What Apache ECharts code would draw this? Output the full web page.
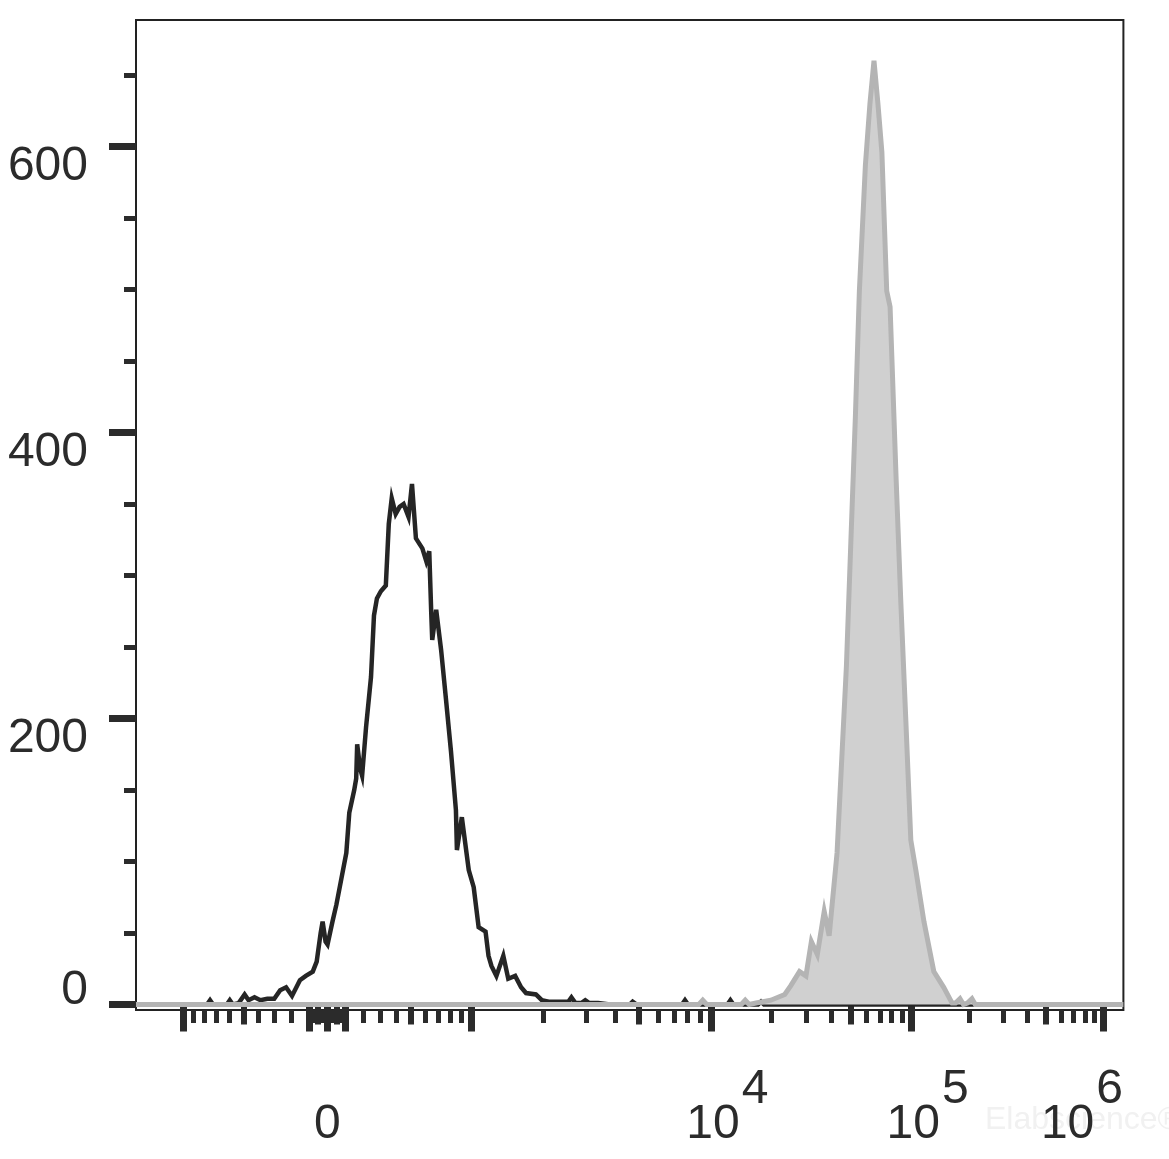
<!DOCTYPE html>
<html>
<head>
<meta charset="utf-8">
<script src="https://cdn.jsdelivr.net/npm/echarts@6/dist/echarts.min.js"></script>
<style>
html,body{margin:0;padding:0;background:#fff;}
#chart{width:1169px;height:1159px;}
</style>
</head>
<body>
<div id="chart"></div>
<script>
// ---- data (x = display channel 0..1000 on the biexponential axis, y = count) ----
const unstainedHist = [
  [0,0],[72,0],[75,3],[78,0],[92,0],[95,3],[98,0],[104,1],[110,7],[114,3],[120,5],[126,3],[133,4],[140,4],
  [146,10],[152,12],[158,6],[166,17],[172,20],[179,23],[183,30],[187,50],[189,58],[192,44],[194,42],[199,58],
  [203,70],[208,88],[213,106],[216,134],[221,150],[223,158],[224,182],[227,165],[229,160],[233,194],[238,229],
  [241,272],[244,284],[248,289],[253,293],[256,336],[259,354],[263,343],[267,348],[271,350],[276,341],[279.5,364],
  [283.5,326],[290,319],[294,310],[297,317],[299,274],[300,255],[304,276],[309,248],[314,213],[319,177],[324,136],
  [325,108],[330,131],[337,94],[342,82],[347,54],[354,51],[357,34],[360,27],[365,20],[372,34],[377,18],[384,20],
  [390,12],[395,8],[405,7],[411,3],[418,2],[430,2],[438,2],[441,5],[445,1],[451,1],[455,3],[459,1],[468,1],
  [480,0],[500,0],[503,2],[507,0],[553,0],[556,3],[559,0],[599,0],[602,3],[605,0],[630,0],[633,2],[636,0],[1000,0]
];
const stainedHist = [
  [0,0],[570,0],[574,3],[578,0],[613,0],[617,3],[621,0],[628,1],[643,3],[657,7],[663,13],[672,23],[678.5,20],
  [684,44],[690,35],[697,65],[702,48],[710,106],[719.5,237],[724,324],[728.6,412],[732.6,499],[738.7,587],
  [743.3,630],[747.4,660],[751.4,630],[755.4,596],[760.3,499],[763.7,488],[769.8,368],[774.6,281],[780,193],
  [784.7,115],[790,93],[798,58],[808,23],[818,12],[826.5,1],[830,1],[834.5,4],[838,0],[842,1],[846.6,4],
  [850,0],[1000,0]
];

// axis tick values (fluorescence intensity)
const xMajorTicks = [-1000, -100, 0, 100, 1000, 10000, 100000, 1000000];
const xMediumTicks = [-500, -50, 50, 500, 5000, 50000, 500000];
const xMinorTicks = [-900,-800,-700,-600,-400,-300,-200,-90,-80,-70,-60,-40,-30,-20,-10,
  10,20,30,40,60,70,80,90,200,300,400,600,700,800,900,
  2000,3000,4000,6000,7000,8000,9000,20000,30000,40000,60000,70000,80000,90000,
  200000,300000,400000,600000,700000,800000,900000];
const xLabelValues = [0, 10000, 100000, 1000000];
const xLabelBases = ['0', '10', '10', '10'];
const xLabelExps = ['', '4', '5', '6'];

const yMajorTicks = [0, 200, 400, 600];
const yMinorTicks = [50, 100, 150, 250, 300, 350, 450, 500, 550, 650];

// ---- biexponential display transform (intensity -> channel) ----
const BIEX = { zero: 193.7, linHalf: 146.3, k: 1.5, decades: [[3, 340], [4, 582.2], [5, 785], [6, 979.8]] };
function toChannel(v) {
  const a = Math.abs(v), s = v < 0 ? -1 : 1;
  let off;
  if (a <= 1000) {
    off = BIEX.linHalf * Math.asinh(BIEX.k * a / 1000) / Math.asinh(BIEX.k);
  } else {
    const lg = Math.log10(a), D = BIEX.decades;
    let i = 0;
    while (i < D.length - 2 && lg > D[i + 1][0]) i++;
    const p = D[i][1] + (D[i + 1][1] - D[i][1]) * (lg - D[i][0]) / (D[i + 1][0] - D[i][0]);
    off = p - BIEX.zero;
  }
  return BIEX.zero + s * off;
}

const INK = '#2b2b2b';
const FONT = "'Liberation Sans', Arial, Helvetica, sans-serif";
const X_MIN = 0, X_MAX = 1000, Y_MIN = -3.85, Y_MAX = 688.5;

const labelChannels = xLabelValues.map(toChannel);

function xTickAxis(values, len, width, withLabels) {
  return {
    type: 'value', gridIndex: 0, position: 'bottom', min: X_MIN, max: X_MAX,
    axisLine: { show: false }, splitLine: { show: false },
    axisTick: { show: true, length: len, customValues: values.map(toChannel),
      lineStyle: { color: INK, width: width, cap: 'butt' } },
    axisLabel: withLabels ? {
      show: true, customValues: labelChannels, margin: 73, color: INK,
      fontFamily: FONT, fontSize: 48,
      formatter: function (val) {
        let idx = 0, best = Infinity;
        labelChannels.forEach(function (c, i) { const d = Math.abs(c - val); if (d < best) { best = d; idx = i; } });
        const base = xLabelBases[idx], exp = xLabelExps[idx];
        if (!exp) return '{z|' + base + '}';
        if (idx === xLabelValues.length - 1) return '{bl|' + base + '}{sl|' + exp + '}';
        return '{b|' + base + '}{s|' + exp + '}';
      },
      rich: {
        z:  { fontFamily: FONT, fontSize: 48, lineHeight: 48, color: INK, padding: [35, 0, 0, 0] },
        b:  { fontFamily: FONT, fontSize: 48, lineHeight: 48, color: INK, padding: [35, 0, 0, 33] },
        s:  { fontFamily: FONT, fontSize: 48, lineHeight: 48, color: INK, padding: [0, 0, 35, 2] },
        bl: { fontFamily: FONT, fontSize: 48, lineHeight: 48, color: INK, padding: [35, 0, 0, 0] },
        sl: { fontFamily: FONT, fontSize: 48, lineHeight: 48, color: INK, padding: [0, 43, 35, 2] }
      }
    } : { show: false }
  };
}

function yTickAxis(values, len, width, withLabels) {
  return {
    type: 'value', gridIndex: 0, position: 'left', min: Y_MIN, max: Y_MAX,
    axisLine: { show: false }, splitLine: { show: false },
    axisTick: { show: true, length: len, customValues: values,
      lineStyle: { color: INK, width: width, cap: 'butt' } },
    axisLabel: withLabels ? {
      show: true, customValues: values, margin: 48, color: INK, fontFamily: FONT, fontSize: 48,
      formatter: function (v) { return v === 0 ? '{z|0}' : '{d|' + v + '}'; },
      rich: {
        d: { fontFamily: FONT, fontSize: 48, lineHeight: 48, color: INK, padding: [40, 0, 0, 0] },
        z: { fontFamily: FONT, fontSize: 48, lineHeight: 48, color: INK, padding: [0, 0, 28, 0] }
      }
    } : { show: false }
  };
}

const chart = echarts.init(document.getElementById('chart'), null, { renderer: 'canvas' });
chart.setOption({
  animation: false,
  backgroundColor: '#ffffff',
  grid: { left: 136, top: 20, right: 42, bottom: 149, show: true, borderColor: '#222222', borderWidth: 2, backgroundColor: 'transparent' },
  xAxis: [
    xTickAxis(xMajorTicks, 27, 7, true),
    xTickAxis(xMediumTicks, 20, 6, false),
    xTickAxis(xMinorTicks, 13, 5, false)
  ],
  yAxis: [
    yTickAxis(yMajorTicks, 27, 7, true),
    yTickAxis(yMinorTicks, 12, 5, false)
  ],
  graphic: [{
    type: 'text', left: 985, top: 1104, z: -1, silent: true,
    style: { text: 'Elabscience®', fill: '#f1f1f1', font: "32px 'Liberation Sans', Arial, sans-serif" }
  }],
  series: [
    {
      name: 'Unstained', type: 'line', xAxisIndex: 0, yAxisIndex: 0, data: unstainedHist,
      showSymbol: false, symbol: 'none', z: 2,
      lineStyle: { color: '#252525', width: 4.5, join: 'miter', miterLimit: 6 }
    },
    {
      name: 'Stained', type: 'line', xAxisIndex: 0, yAxisIndex: 0, data: stainedHist,
      showSymbol: false, symbol: 'none', z: 3,
      lineStyle: { color: '#b4b4b4', width: 5, join: 'miter', miterLimit: 6 },
      areaStyle: { color: '#d0d0d0', opacity: 1 }
    }
  ]
});
</script>
</body>
</html>
